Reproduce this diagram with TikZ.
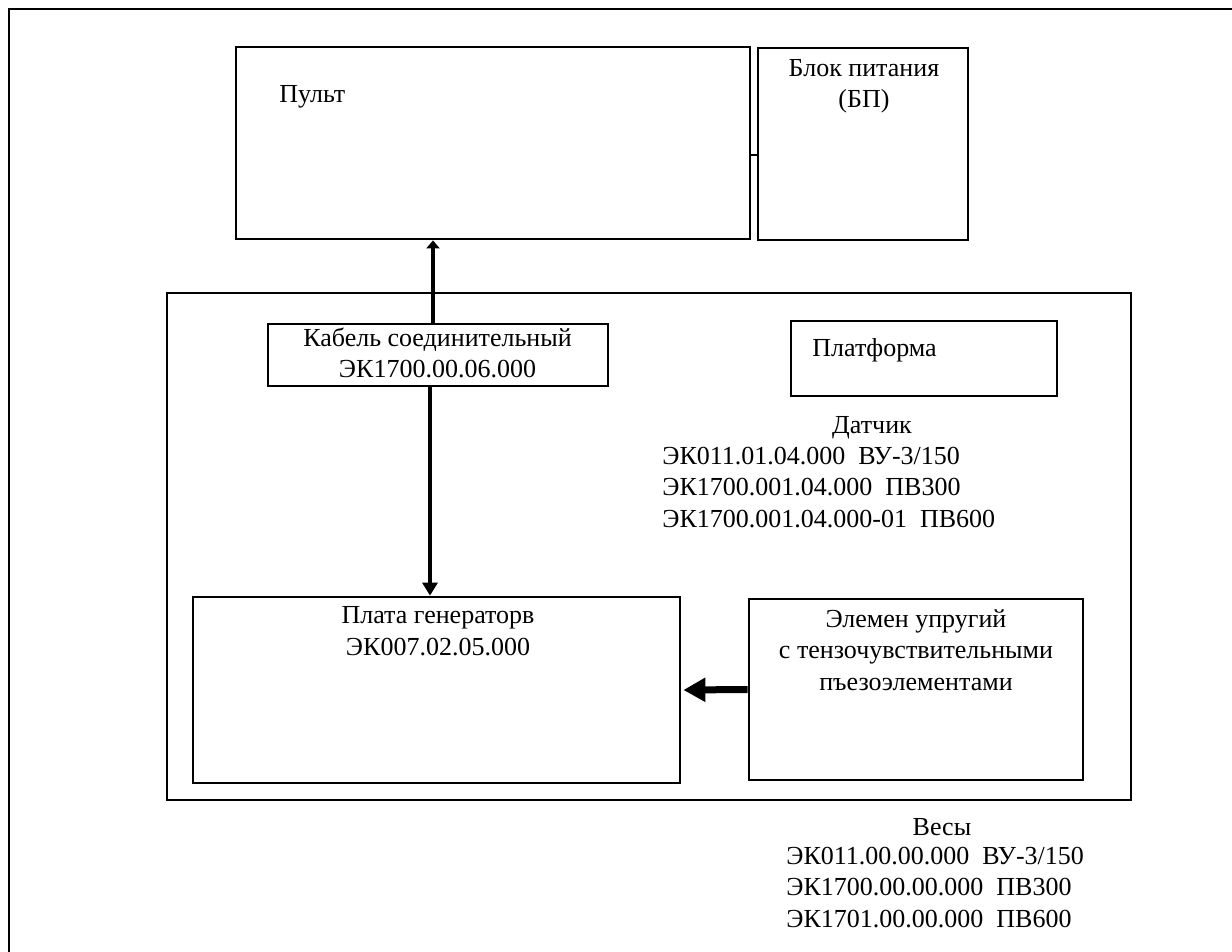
\documentclass[tikz,border=0pt]{standalone}
\usepackage{fontspec}
\setmainfont{Liberation Serif}
\usetikzlibrary{arrows.meta}
\tikzset{
  box/.style= {draw, line width=1.4pt, inner sep=0},
  thinbox/.style= {draw, line width=0.6pt, inner sep=0},
  lbl/.style= {inner sep=0, align=center, font=\fontsize{13}{15.75}\selectfont},
}

\begin{document}
\begin{tikzpicture}[x=0.5pt, y=-0.5pt]
  \useasboundingbox (0,0) rectangle (1232,952);
  \draw [line width=1.4pt] (9,970) -- (9,9) -- (1250,9);

  \node [box, minimum width=257pt, minimum height=96pt] (pult) at (493,143) {};
  \node [box, minimum width=105pt, minimum height=96pt] (bp) at (863,144) {};
  \node [box, minimum width=482pt, minimum height=253.5pt] (scale) at (649,546.5) {};
  \node [thinbox, minimum width=170pt, minimum height=31pt] (cable) at (438,355) {};
  \node [box, minimum width=133pt, minimum height=37.5pt] (platform) at (924,358.5) {};
  \node [box, minimum width=243.5pt, minimum height=93pt] (board) at (436.5,690) {};
  \node [box, minimum width=167pt, minimum height=90.5pt] (element) at (916,689.5) {};

  % multi-line labels: base = baseline of the last line
  \node [lbl, anchor=base west] (pultlbl) at (279,103) {Пульт};
  \node [lbl, anchor=base] (bplbl) at (864,108) {Блок питания\\(БП)};
  \node [lbl, anchor=base] (cablelbl) at (437.5,378) {Кабель соединительный\\ЭК1700.00.06.000};
  \node [lbl, anchor=base west] (platformlbl) at (812,357) {Платформа};
  \node [lbl, anchor=base] (sensorlbl) at (872,433) {Датчик};
  \node [lbl, anchor=base west, align=left] (sensorcodes) at (662,527)
    {ЭК011.01.04.000~~ВУ-3/150\\ЭК1700.001.04.000~~ПВ300\\ЭК1700.001.04.000-01~~ПВ600};
  \node [lbl, anchor=base] (boardlbl) at (438,655) {Плата генераторв\\ЭК007.02.05.000};
  \node [lbl, anchor=base] (elementlbl) at (916,690) {Элемен упругий\\с тензочувствительными\\пъезоэлементами};
  \node [lbl, anchor=base] (scalelbl) at (942,835) {Весы};
  \node [lbl, anchor=base west, align=left] (scalecodes) at (786,927)
    {ЭК011.00.00.000~~ВУ-3/150\\ЭК1700.00.00.000~~ПВ300\\ЭК1701.00.00.000~~ПВ600};

  \draw [line width=0.8pt] ([yshift=-6pt]pult.east) -- ([yshift=-6pt]pult.east -| bp.west);
  \draw [line width=2pt, -{Triangle[width=6.5pt, length=4pt]}]
    ([xshift=-2.5pt]cable.north) -- ([xshift=-2.5pt]cable.north |- pult.south);
  \draw [line width=2.2pt, -{Triangle[width=7.5pt, length=6.5pt]}]
    ([xshift=-4pt]cable.south) -- ([xshift=-4pt]cable.south |- board.north);
  \draw [line width=3.5pt, -{Triangle[width=11.5pt, length=11pt]}]
    (element.west) -- ([xshift=1pt]board.east);
\end{tikzpicture}
\end{document}
